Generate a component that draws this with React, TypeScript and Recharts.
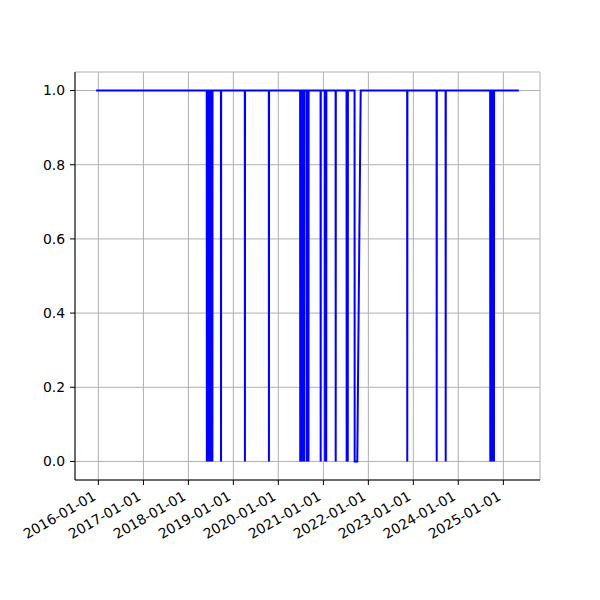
import { CartesianGrid, Line, LineChart, XAxis, YAxis } from 'recharts'

// observation dates and the matching up (1) / down (0) flag
const dates = [
  '2015-12-14',
  '2018-05-30', '2018-05-31', '2018-06-01',
  '2018-06-10', '2018-06-11', '2018-06-12',
  '2018-06-21', '2018-06-22', '2018-06-23',
  '2018-07-03', '2018-07-04', '2018-07-05',
  '2018-07-14', '2018-07-15', '2018-07-16',
  '2018-09-22', '2018-09-23', '2018-09-24',
  '2019-04-04', '2019-04-05', '2019-04-06',
  '2019-10-16', '2019-10-17', '2019-10-18',
  '2020-06-26', '2020-06-27', '2020-06-28',
  '2020-07-07', '2020-07-08', '2020-07-09',
  '2020-07-19', '2020-07-20', '2020-07-21',
  '2020-07-29', '2020-07-30', '2020-07-31',
  '2020-08-19', '2020-08-20', '2020-08-21',
  '2020-09-01', '2020-09-02', '2020-09-03',
  '2020-12-09', '2020-12-10', '2020-12-11',
  '2021-01-14', '2021-01-15', '2021-01-16',
  '2021-01-23', '2021-01-24', '2021-01-25',
  '2021-04-10', '2021-04-11', '2021-04-12',
  '2021-07-08', '2021-07-09', '2021-07-10',
  '2021-07-17', '2021-07-18', '2021-07-19',
  '2021-09-11', '2021-09-12', '2021-10-03', '2021-10-31',
  '2022-11-12', '2022-11-13', '2022-11-14',
  '2023-07-09', '2023-07-10', '2023-07-11',
  '2023-09-20', '2023-09-21', '2023-09-22',
  '2024-09-16', '2024-09-17', '2024-09-18',
  '2024-09-27', '2024-09-28', '2024-09-29',
  '2024-10-08', '2024-10-09', '2024-10-10',
  '2024-10-16', '2024-10-17', '2024-10-18',
  '2025-05-07',
]

const values = [
  1,
  1, 0, 1,
  1, 0, 1,
  1, 0, 1,
  1, 0, 1,
  1, 0, 1,
  1, 0, 1,
  1, 0, 1,
  1, 0, 1,
  1, 0, 1,
  1, 0, 1,
  1, 0, 1,
  1, 0, 1,
  1, 0, 1,
  1, 0, 1,
  1, 0, 1,
  1, 0, 1,
  1, 0, 1,
  1, 0, 1,
  1, 0, 1,
  1, 0, 1,
  1, 0, 0, 1,
  1, 0, 1,
  1, 0, 1,
  1, 0, 1,
  1, 0, 1,
  1, 0, 1,
  1, 0, 1,
  1, 0, 1,
  1,
]

const xTickLabels = [
  '2016-01-01', '2017-01-01', '2018-01-01', '2019-01-01', '2020-01-01',
  '2021-01-01', '2022-01-01', '2023-01-01', '2024-01-01', '2025-01-01',
]

const yTicks = [0, 0.2, 0.4, 0.6, 0.8, 1.0]

const data = dates.map((d, i) => ({ t: Date.parse(d), value: values[i] }))
const xTicks = xTickLabels.map((d) => Date.parse(d))

const tMin = data[0].t
const tMax = data[data.length - 1].t
const pad = (tMax - tMin) * 0.05
const xDomain: [number, number] = [tMin - pad, tMax + pad]

const FONT = "'DejaVu Sans', sans-serif"

function DateTick(props: any) {
  const { x, y, payload } = props
  const label = new Date(payload.value).toISOString().slice(0, 10)
  const ax = x - 1.5
  const ay = y + 14
  return (
    <text x={ax} y={ay} textAnchor="end" fontSize={13.9} fontFamily={FONT} fill="#000" transform={`rotate(-30, ${ax}, ${ay})`}>
      {label}
    </text>
  )
}

export default function App() {
  return (
    <div style={{ position: 'absolute', left: 0, top: 0, width: 600, height: 600, background: '#fff' }}>
      <LineChart width={600} height={600} data={data} margin={{ top: 72, right: 60, bottom: 0, left: 0 }}>
        <CartesianGrid stroke="#b0b0b0" strokeWidth={1} />
        <XAxis
          dataKey="t"
          type="number"
          domain={xDomain}
          ticks={xTicks}
          height={120}
          tick={<DateTick />}
          tickSize={5}
          tickMargin={0}
          axisLine={{ stroke: '#000' }}
          tickLine={{ stroke: '#000' }}
          interval={0}
        />
        <XAxis xAxisId="top" orientation="top" dataKey="t" type="number" domain={xDomain} height={0} tick={false} tickLine={false} axisLine={{ stroke: '#000' }} />
        <YAxis
          type="number"
          domain={[-0.05, 1.05]}
          ticks={yTicks}
          width={75}
          tickSize={5}
          tickMargin={5}
          tickFormatter={(v: number) => v.toFixed(1)}
          tick={{ fontSize: 13.9, fontFamily: FONT, fill: '#000' }}
          axisLine={{ stroke: '#000' }}
          tickLine={{ stroke: '#000' }}
          interval={0}
        />
        <YAxis yAxisId="right" orientation="right" domain={[-0.05, 1.05]} width={0} tick={false} tickLine={false} axisLine={{ stroke: '#000' }} />
        <Line dataKey="value" type="linear" stroke="#0000ff" strokeWidth={2} dot={false} isAnimationActive={false} />
      </LineChart>
    </div>
  )
}
